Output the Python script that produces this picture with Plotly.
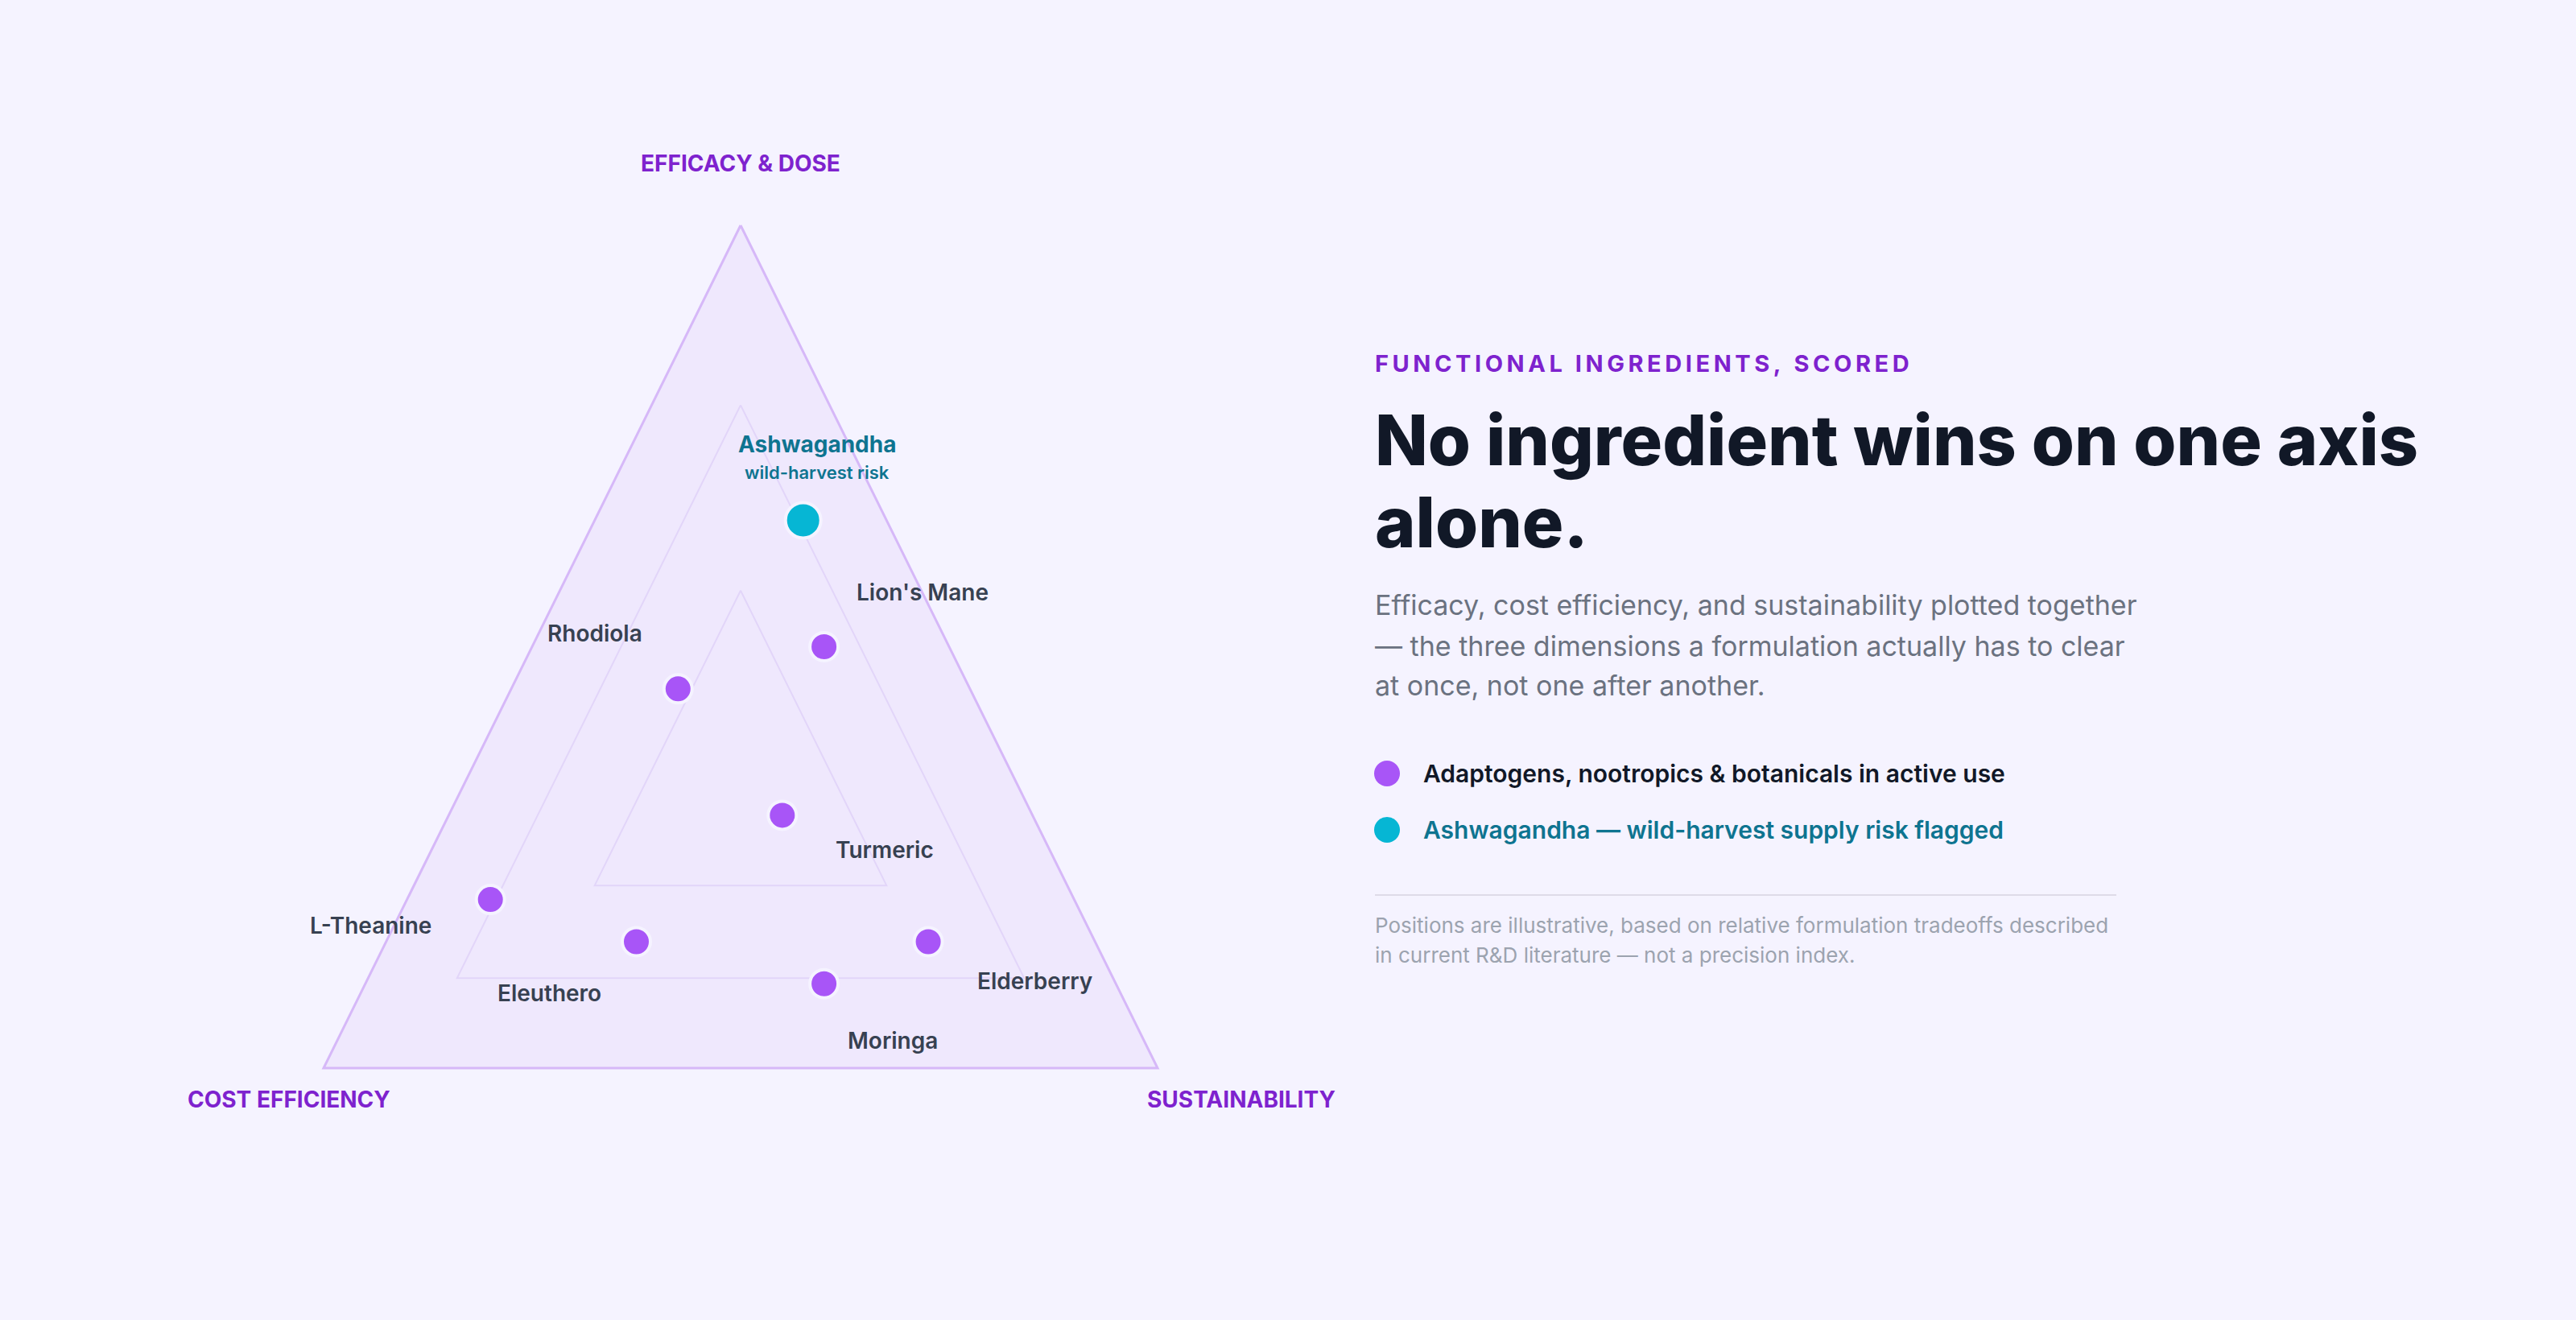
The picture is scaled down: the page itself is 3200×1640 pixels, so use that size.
import plotly.graph_objects as go

# scores on the three axes (each row sums to 1)
ingredients = ["Ashwagandha", "Lion's Mane", "Rhodiola", "Turmeric",
               "L-Theanine", "Eleuthero", "Elderberry", "Moringa"]
efficacy = [0.65, 0.50, 0.45, 0.30, 0.20, 0.15, 0.15, 0.10]
cost_eff = [0.10, 0.15, 0.35, 0.30, 0.70, 0.55, 0.20, 0.35]
sustain = [0.25, 0.35, 0.20, 0.40, 0.10, 0.30, 0.65, 0.55]
flagged = ["Ashwagandha"]

axis_titles = ["EFFICACY & DOSE", "COST EFFICIENCY", "SUSTAINABILITY"]
ring_scales = [1.0, 0.68, 0.35]

legend_labels = ["Adaptogens, nootropics & botanicals in active use",
                 "Ashwagandha — wild-harvest supply risk flagged"]

kicker = "FUNCTIONAL INGREDIENTS, SCORED"
title_lines = ["No ingredient wins on one axis", "alone."]
body_lines = ["Efficacy, cost efficiency, and sustainability plotted together",
              "— the three dimensions a formulation actually has to clear",
              "at once, not one after another."]
note_lines = ["Positions are illustrative, based on relative formulation tradeoffs described",
              "in current R&D literature — not a precision index."]

W, H = 3200, 1640
BG = "#f5f3ff"
PURPLE = "#a855f7"
TEAL = "#06b6d4"
TEAL_TEXT = "#0e7490"
ACCENT = "#7e22ce"
FONT = "Inter"

# label offsets in px from each point (dx right, dy up)
label_offsets = {
    "Ashwagandha": (17, 94),
    "Lion's Mane": (122, 68),
    "Rhodiola": (-103, 69),
    "Turmeric": (127, -43),
    "L-Theanine": (-149, -32),
    "Eleuthero": (-108, -64),
    "Elderberry": (132, -49),
    "Moringa": (85, -71),
}


def to_xy(a, b, c):
    s = a + b + c
    return (0.5 * a + c) / s, a / s


def ring(scale):
    lo = (1 - scale) / 3
    hi = lo + scale
    verts = [(hi, lo, lo), (lo, hi, lo), (lo, lo, hi), (hi, lo, lo)]
    pts = [to_xy(*v) for v in verts]
    return [p[0] for p in pts], [p[1] for p in pts]


def px(xp):
    return xp / W


def py(yp):
    return 1 - yp / H


fig = go.Figure()

for i, s in enumerate(ring_scales):
    rx, ry = ring(s)
    if i == 0:
        fig.add_trace(go.Scatter(x=rx, y=ry, mode="lines", fill="toself",
                                 fillcolor="#efe8fd",
                                 line=dict(color="#d6b8f8", width=3),
                                 hoverinfo="skip", showlegend=False, cliponaxis=False))
    else:
        fig.add_trace(go.Scatter(x=rx, y=ry, mode="lines",
                                 line=dict(color="#e2d5f9", width=2),
                                 hoverinfo="skip", showlegend=False, cliponaxis=False))

xy = [to_xy(a, b, c) for a, b, c in zip(efficacy, cost_eff, sustain)]
normal = [i for i, n in enumerate(ingredients) if n not in flagged]
risky = [i for i, n in enumerate(ingredients) if n in flagged]

fig.add_trace(go.Scatter(
    x=[xy[i][0] for i in normal], y=[xy[i][1] for i in normal],
    text=[ingredients[i] for i in normal], mode="markers",
    marker=dict(size=35, color=PURPLE, line=dict(color=BG, width=4)),
    hovertemplate="%{text}<extra></extra>", showlegend=False, cliponaxis=False))
fig.add_trace(go.Scatter(
    x=[xy[i][0] for i in risky], y=[xy[i][1] for i in risky],
    text=[ingredients[i] for i in risky], mode="markers",
    marker=dict(size=44, color=TEAL, line=dict(color=BG, width=4)),
    hovertemplate="%{text}<extra></extra>", showlegend=False, cliponaxis=False))

annotations = []
for name, (x, y) in zip(ingredients, xy):
    dx, dy = label_offsets[name]
    if name in flagged:
        annotations.append(dict(x=x, y=y, xref="x", yref="y", text=name, showarrow=False,
                                xshift=dx, yshift=dy,
                                font=dict(family=FONT, size=28, color=TEAL_TEXT, weight=700)))
        annotations.append(dict(x=x, y=y, xref="x", yref="y", text="wild-harvest risk",
                                showarrow=False, xshift=dx, yshift=dy - 35,
                                font=dict(family=FONT, size=22, color=TEAL_TEXT, weight=600)))
    else:
        annotations.append(dict(x=x, y=y, xref="x", yref="y", text=name, showarrow=False,
                                xshift=dx, yshift=dy,
                                font=dict(family=FONT, size=28, color="#374151", weight=600)))

# axis titles at the triangle corners
corner_shifts = [(0, 77), (-43, -39), (104, -39)]
corners = [to_xy(1, 0, 0), to_xy(0, 1, 0), to_xy(0, 0, 1)]
for t, (cx, cy), (dx, dy) in zip(axis_titles, corners, corner_shifts):
    annotations.append(dict(x=cx, y=cy, xref="x", yref="y", text=t, showarrow=False,
                            xshift=dx, yshift=dy,
                            font=dict(family=FONT, size=28, color=ACCENT, weight=700)))

# right-hand text block
LEFT = px(1706)
annotations.append(dict(x=LEFT, y=py(451), xref="paper", yref="paper",
                        text="\u2009".join(kicker), showarrow=False,
                        xanchor="left", yanchor="middle",
                        font=dict(family=FONT, size=29, color=ACCENT, weight=700)))
for line, yp in zip(title_lines, [547, 649]):
    annotations.append(dict(x=LEFT, y=py(yp), xref="paper", yref="paper", text=line,
                            showarrow=False, xanchor="left", yanchor="middle",
                            font=dict(family=FONT, size=86, color="#111827", weight=800)))
for line, yp in zip(body_lines, [751, 802, 851]):
    annotations.append(dict(x=LEFT, y=py(yp), xref="paper", yref="paper", text=line,
                            showarrow=False, xanchor="left", yanchor="middle",
                            font=dict(family=FONT, size=34, color="#6b7280")))
for line, yp, col in zip(legend_labels, [961, 1031], ["#111827", TEAL_TEXT]):
    annotations.append(dict(x=px(1766), y=py(yp), xref="paper", yref="paper", text=line,
                            showarrow=False, xanchor="left", yanchor="middle",
                            font=dict(family=FONT, size=30, color=col, weight=600)))
for line, yp in zip(note_lines, [1149, 1186]):
    annotations.append(dict(x=LEFT, y=py(yp), xref="paper", yref="paper", text=line,
                            showarrow=False, xanchor="left", yanchor="middle",
                            font=dict(family=FONT, size=26, color="#9ca3af")))

# legend dots on a small helper axis
fig.add_trace(go.Scatter(x=[0, 0], y=[0, 1], mode="markers", xaxis="x2", yaxis="y2",
                         marker=dict(size=32, color=[PURPLE, TEAL]),
                         hoverinfo="skip", showlegend=False, cliponaxis=False))

# triangle box: vertices at px (402,1327), (920,280), (1438,1327)
pad = 0.05
x0p, x1p = 402 - pad * 1036, 1438 + pad * 1036
y0p, y1p = 1327 + pad * 1047, 280 - pad * 1047

fig.update_layout(
    width=W, height=H,
    margin=dict(l=0, r=0, t=0, b=0),
    paper_bgcolor=BG, plot_bgcolor="rgba(0,0,0,0)",
    showlegend=False,
    xaxis=dict(domain=[px(x0p), px(x1p)], range=[-pad, 1 + pad], visible=False, fixedrange=True),
    yaxis=dict(domain=[py(y0p), py(y1p)], range=[-pad, 1 + pad], visible=False, fixedrange=True),
    xaxis2=dict(domain=[px(1700), px(1746)], range=[-1, 1], visible=False, anchor="y2"),
    yaxis2=dict(domain=[py(1066), py(926)], range=[1.5, -0.5], visible=False, anchor="x2"),
    annotations=annotations,
    shapes=[dict(type="line", xref="paper", yref="paper",
                 x0=px(1708), x1=px(2629), y0=py(1112), y1=py(1112),
                 line=dict(color="#dedbe8", width=2))],
    hovermode="closest",
)

fig.write_html("out.html", config={"displayModeBar": False},
               post_script="document.body.style.margin='0';")
